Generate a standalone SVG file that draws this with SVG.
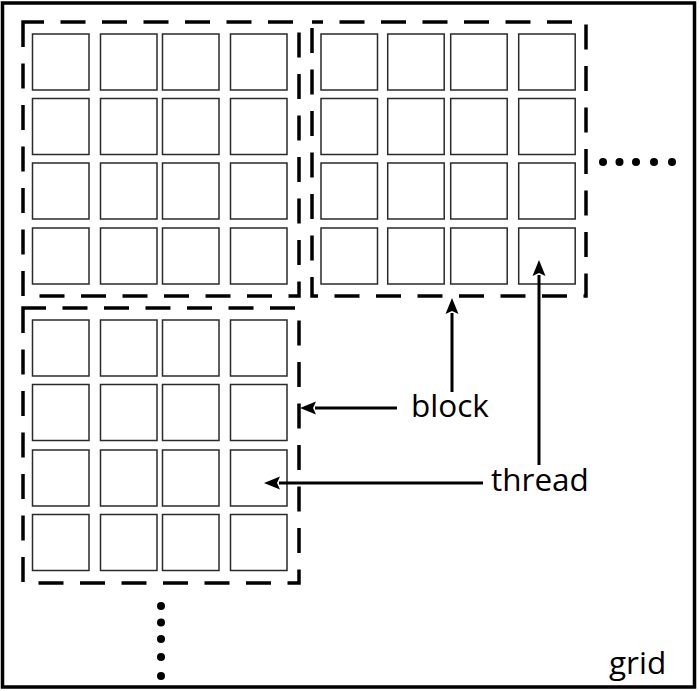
<svg xmlns="http://www.w3.org/2000/svg" width="700" height="691" viewBox="0 0 700 691">
<style>
.frame{fill:#fff;stroke:#000;stroke-width:3.5}
.blk{fill:none;stroke:#000;stroke-width:3.5;stroke-dasharray:25 16.5}
.th{fill:#fff;stroke:#2a2a2a;stroke-width:1.5}
.conn{stroke:#000;stroke-width:3;fill:none}
.lbl{font-family:"Open Sans","Liberation Sans",sans-serif;font-size:31.5px;fill:#000}
.dot{fill:#000}
</style>
<defs>
<marker id="ah" markerUnits="userSpaceOnUse" markerWidth="16" markerHeight="14" refX="1" refY="7" orient="auto">
<path d="M0,0.5 L16,7 L0,13.5 L3,7 z" fill="#000"/>
</marker>
</defs>
<rect id="grid" class="frame" x="2.5" y="3" width="692" height="684"/>
<g id="block1">
<path class="blk" d="M23,22 V296 H299 V22 Z"/>
<rect class="th" x="32.5" y="34" width="56.5" height="56"/><rect class="th" x="100.5" y="34" width="56.5" height="56"/><rect class="th" x="162.5" y="34" width="56.5" height="56"/><rect class="th" x="230.5" y="34" width="56.5" height="56"/>
<rect class="th" x="32.5" y="98.5" width="56.5" height="56"/><rect class="th" x="100.5" y="98.5" width="56.5" height="56"/><rect class="th" x="162.5" y="98.5" width="56.5" height="56"/><rect class="th" x="230.5" y="98.5" width="56.5" height="56"/>
<rect class="th" x="32.5" y="163" width="56.5" height="56"/><rect class="th" x="100.5" y="163" width="56.5" height="56"/><rect class="th" x="162.5" y="163" width="56.5" height="56"/><rect class="th" x="230.5" y="163" width="56.5" height="56"/>
<rect class="th" x="32.5" y="228" width="56.5" height="56"/><rect class="th" x="100.5" y="228" width="56.5" height="56"/><rect class="th" x="162.5" y="228" width="56.5" height="56"/><rect class="th" x="230.5" y="228" width="56.5" height="56"/>
</g>
<g id="block2">
<path class="blk" style="stroke-dashoffset:-6" d="M312,22 V296 H586 V22 Z"/>
<rect class="th" x="321" y="34" width="56.5" height="56"/><rect class="th" x="387.7" y="34" width="56.5" height="56"/><rect class="th" x="450.7" y="34" width="56.5" height="56"/><rect class="th" x="518.7" y="34" width="56.5" height="56"/>
<rect class="th" x="321" y="98.5" width="56.5" height="56"/><rect class="th" x="387.7" y="98.5" width="56.5" height="56"/><rect class="th" x="450.7" y="98.5" width="56.5" height="56"/><rect class="th" x="518.7" y="98.5" width="56.5" height="56"/>
<rect class="th" x="321" y="163" width="56.5" height="56"/><rect class="th" x="387.7" y="163" width="56.5" height="56"/><rect class="th" x="450.7" y="163" width="56.5" height="56"/><rect class="th" x="518.7" y="163" width="56.5" height="56"/>
<rect class="th" x="321" y="228" width="56.5" height="56"/><rect class="th" x="387.7" y="228" width="56.5" height="56"/><rect class="th" x="450.7" y="228" width="56.5" height="56"/><rect class="th" x="518.7" y="228" width="56.5" height="56"/>
</g>
<g id="block3">
<path class="blk" d="M23,308 V583 H299 V308 Z"/>
<rect class="th" x="32.5" y="320" width="56.5" height="56"/><rect class="th" x="100.5" y="320" width="56.5" height="56"/><rect class="th" x="162.5" y="320" width="56.5" height="56"/><rect class="th" x="230.5" y="320" width="56.5" height="56"/>
<rect class="th" x="32.5" y="384.5" width="56.5" height="56"/><rect class="th" x="100.5" y="384.5" width="56.5" height="56"/><rect class="th" x="162.5" y="384.5" width="56.5" height="56"/><rect class="th" x="230.5" y="384.5" width="56.5" height="56"/>
<rect class="th" x="32.5" y="450" width="56.5" height="56"/><rect class="th" x="100.5" y="450" width="56.5" height="56"/><rect class="th" x="162.5" y="450" width="56.5" height="56"/><rect class="th" x="230.5" y="450" width="56.5" height="56"/>
<rect class="th" x="32.5" y="514.5" width="56.5" height="56"/><rect class="th" x="100.5" y="514.5" width="56.5" height="56"/><rect class="th" x="162.5" y="514.5" width="56.5" height="56"/><rect class="th" x="230.5" y="514.5" width="56.5" height="56"/>
</g>
<g id="dots-right">
<circle class="dot" cx="603" cy="162" r="4"/><circle class="dot" cx="619.5" cy="162" r="4"/><circle class="dot" cx="636" cy="162" r="4"/><circle class="dot" cx="654" cy="162" r="4"/><circle class="dot" cx="672" cy="162" r="4"/>
</g>
<g id="dots-bottom">
<circle class="dot" cx="161" cy="606" r="4"/><circle class="dot" cx="161" cy="622.5" r="4"/><circle class="dot" cx="161" cy="639" r="4"/><circle class="dot" cx="161" cy="657" r="4"/><circle class="dot" cx="161" cy="676" r="4"/>
</g>
<g id="connectors">
<line class="conn" x1="452" y1="392" x2="452" y2="313" marker-end="url(#ah)"/>
<line class="conn" x1="397" y1="408" x2="315" y2="408" marker-end="url(#ah)"/>
<line class="conn" x1="539" y1="465" x2="539" y2="275" marker-end="url(#ah)"/>
<line class="conn" x1="483" y1="483" x2="279" y2="483" marker-end="url(#ah)"/>
</g>
<g id="labels">
<text class="lbl" x="411" y="417">block</text>
<text class="lbl" x="491" y="491">thread</text>
<text class="lbl" x="609" y="674">grid</text>
</g>
</svg>
